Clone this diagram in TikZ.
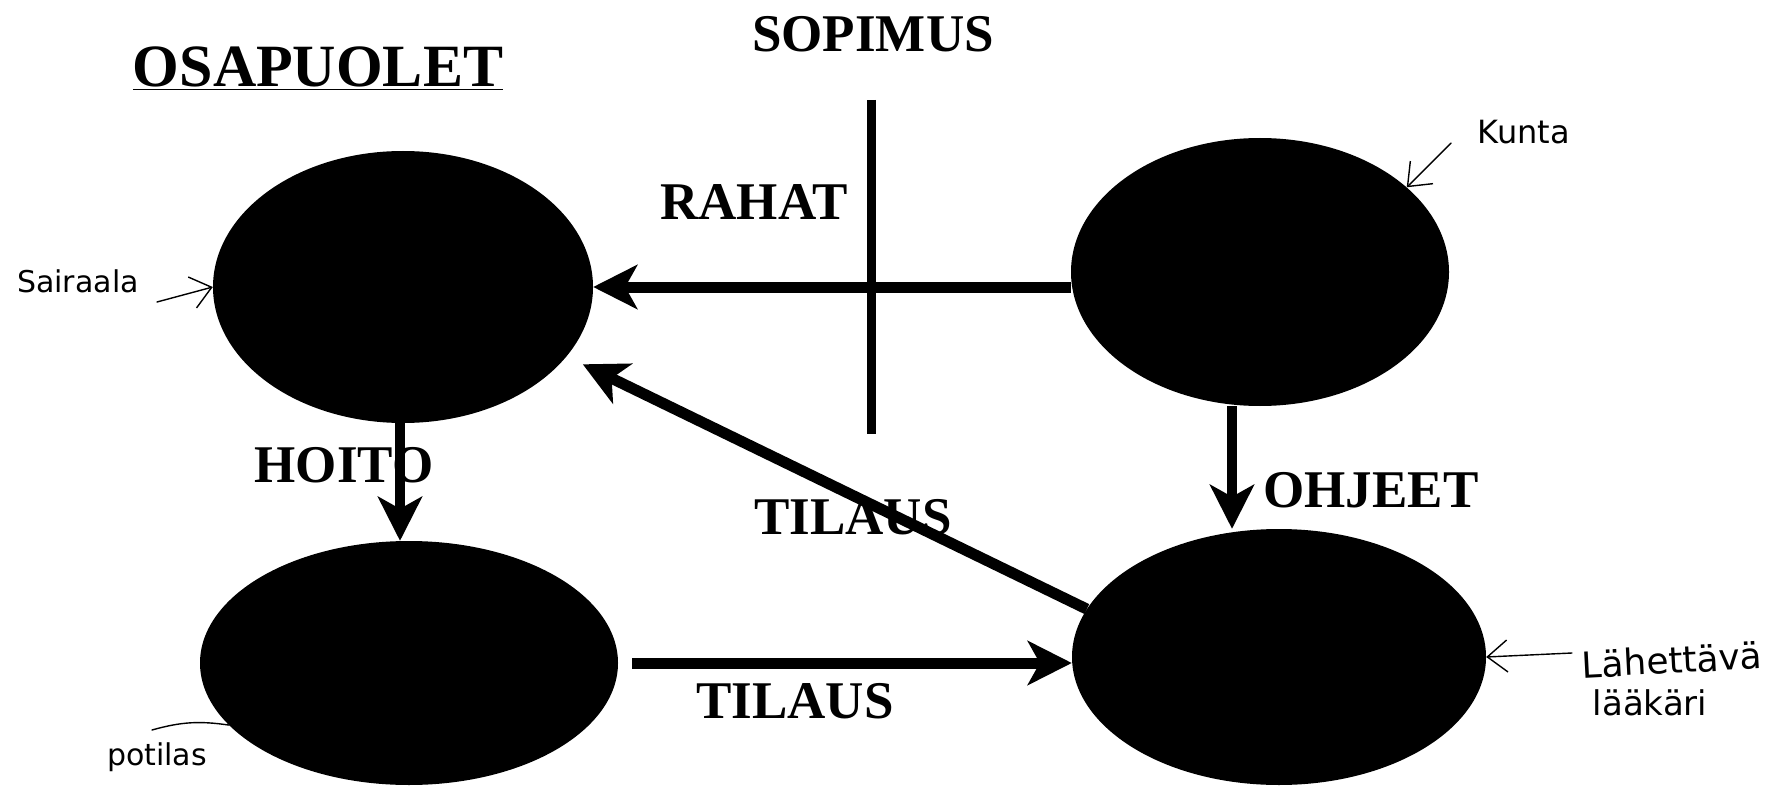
\documentclass[tikz,border=0pt]{standalone}
\usepackage{fontspec}
\setmainfont{Liberation Serif}
\newfontfamily\handfont{DejaVu Sans}
\usetikzlibrary{shapes.geometric,arrows.meta}
\tikzset{
  blob/.style={ellipse, fill=black, draw=none, inner sep=0pt},
  lbl/.style={font=\fontsize{53}{60}\selectfont\bfseries, inner sep=0pt},
  bigarr/.style={line width=11pt, -{Stealth[length=44pt,width=44pt,inset=12pt]}},
  hand/.style={font=\handfont\fontsize{30}{34}\selectfont, inner sep=0pt},
  handarr/.style={line width=1.4pt, line cap=round, -{Straight Barb[length=20pt,width=32pt]}},
  bar/.style={line width=9pt}
}
\begin{document}
\begin{tikzpicture}[x=1pt,y=-1pt]
\useasboundingbox (0,0) rectangle (1782,786);
% ellipses
\node[blob, minimum width=380pt, minimum height=272pt] (sair) at (403,287) {};
\node[blob, minimum width=378pt, minimum height=268pt] (kunta) at (1260,272) {};
\node[blob, minimum width=418pt, minimum height=244pt] (pot) at (409,663) {};
\node[blob, minimum width=414pt, minimum height=256pt] (lah) at (1279,657) {};
% titles
\node[lbl, font=\fontsize{60}{66}\selectfont\bfseries, anchor=base] (osap) at (318,87) {\underline{OSAPUOLET}};
\node[lbl] (sop) at (873,34) {SOPIMUS};
% vertical bar
\coordinate (bartop) at (871,100);
\coordinate (barbot) at (871,434);
\draw[bar] (bartop) -- (barbot);
% labels
\node[lbl] (rahat) at (754,202) {RAHAT};
\node[lbl] (hoito) at (344,465) {HOITO};
\node[lbl] (ohjeet) at (1371,490) {OHJEET};
% arrows
\draw[bigarr] (kunta.west |- sair.east) -- (sair.east);
\draw[bigarr, line width=10pt] ([xshift=-3pt]sair.south) -- ([xshift=-3pt]sair.south |- pot.north);
\draw[bigarr, line width=10pt] ([xshift=-28pt]kunta.south) -- ([xshift=-28pt]kunta.south |- lah.north);
\draw[bigarr, shorten <=14pt] (pot.east) -- (pot.east -| lah.west);
\draw[bigarr, shorten >=18pt] (lah.166) -- (sair.-23);
\node[lbl] (til1) at (853,517) {TILAUS};
\node[lbl] (til2) at (795,701) {TILAUS};
% handwritten annotations
\node[hand] (hs) at (78,281) {Sairaala};
\coordinate (hsa) at (157,302);
\draw[handarr] (hsa) -- (sair.west);
\node[hand, font=\handfont\fontsize{32}{36}\selectfont] (hk) at (1524,132) {Kunta};
\coordinate (hka) at (1451,143);
\draw[handarr] (hka) -- (kunta.30);
\node[hand, font=\handfont\fontsize{36}{40}\selectfont, rotate=3] (hl1) at (1672,660) {Lähettävä};
\node[hand, font=\handfont\fontsize{34}{38}\selectfont] (hl2) at (1650,703) {lääkäri};
\coordinate (hla) at (1572,653);
\draw[handarr] (hla) -- (lah.east);
\node[hand] (hp) at (157,757) {potilas};
\coordinate (hpa) at (152,730);
\draw[line width=1.4pt, line cap=round] (hpa) to[bend left=12] (pot.199);
\end{tikzpicture}
\end{document}
